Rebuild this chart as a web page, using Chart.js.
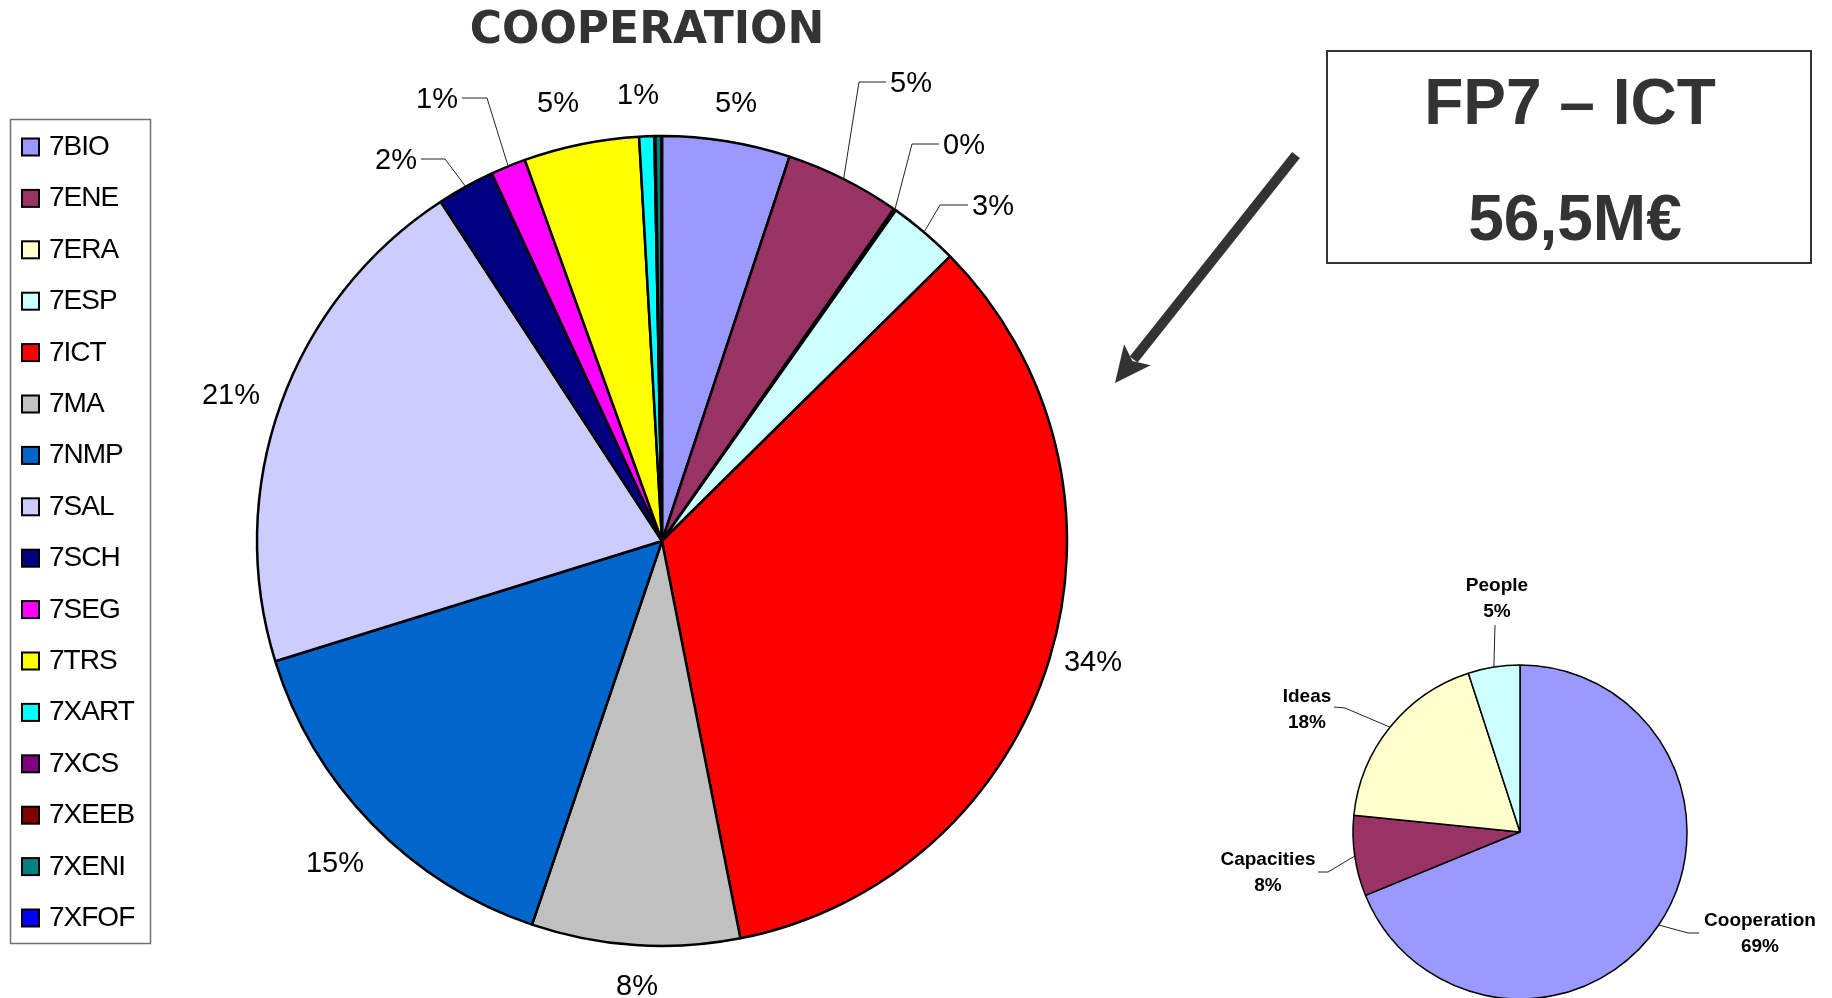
<!DOCTYPE html>
<html>
<head>
<meta charset="utf-8">
<script src="https://cdn.jsdelivr.net/npm/chart.js@4"></script>
<style>
html,body{margin:0;padding:0;background:#fff;width:1832px;height:998px;overflow:hidden;}
canvas{position:absolute;left:0;top:0;}
</style>
</head>
<body>
<canvas id="main" width="1832" height="998"></canvas>
<canvas id="small" width="1832" height="998"></canvas>
<script>
// ---- data ----
const categories = ['7BIO','7ENE','7ERA','7ESP','7ICT','7MA','7NMP','7SAL','7SCH','7SEG','7TRS','7XART','7XCS','7XEEB','7XENI','7XFOF'];
const shares = [5.1, 4.6, 0.1, 2.8, 34.3, 8.3, 15.0, 20.6, 2.3, 1.4, 4.6, 0.6, 0.02, 0.02, 0.24, 0.02];
const sliceColors = ['#9999FF','#993366','#FFFFCC','#CCFFFF','#FF0000','#C0C0C0','#0066CC','#CCCCFF','#000080','#FF00FF','#FFFF00','#00FFFF','#800080','#800000','#008080','#0000FF'];
const summaryCategories = ['Cooperation','Capacities','Ideas','People'];
const summaryShares = [68.8, 7.8, 18.4, 5.0];
const summaryColors = ['#9999FF','#993366','#FFFFCC','#CCFFFF'];
const chartTitle = 'COOPERATION';
const boxLines = ['FP7 \u2013 ICT', '56,5M\u20AC'];

// ---- label placement (relative to pie centre, px) ----
const mainLabelPlacement = {
  '7BIO':  {dx: 74, dy: -439},
  '7ENE':  {elbow: [197, -459], end: [224, -459], side: 'right'},
  '7ERA':  {elbow: [250, -397], end: [277, -397], side: 'right'},
  '7ESP':  {elbow: [278, -336], end: [306, -336], side: 'right'},
  '7ICT':  {dx: 431, dy: 120},
  '7MA':   {dx: -25, dy: 444},
  '7NMP':  {dx: -327, dy: 321},
  '7SAL':  {dx: -431, dy: -147},
  '7SCH':  {elbow: [-217, -382], end: [-241, -382], side: 'left'},
  '7SEG':  {elbow: [-175, -443], end: [-200, -443], side: 'left'},
  '7TRS':  {dx: -104, dy: -439},
  '7XART': {dx: -24, dy: -447}
};
const summaryLabelPlacement = {
  'Cooperation': {tx: 240, ty: 87, elbow: [168, 101], end: [179, 101]},
  'Capacities':  {tx: -252, ty: 26, elbow: [-192, 40], end: [-202, 40]},
  'Ideas':       {tx: -213, ty: -137, elbow: [-175, -124], end: [-186, -125]},
  'People':      {tx: -23, ty: -248, end: [-25, -207]}
};

function pctText(v, arr) {
  const total = arr.reduce((a, b) => a + b, 0);
  return Math.round(v / total * 100) + '%';
}

const mainDecor = {
  id: 'mainDecor',
  afterDraw(chart) {
    const ctx = chart.ctx;
    const meta = chart.getDatasetMeta(0);
    const ds = chart.data.datasets[0];
    const data = ds.data;

    // Title
    ctx.save();
    ctx.fillStyle = '#333333';
    ctx.font = 'bold 44px "DejaVu Sans"';
    ctx.textAlign = 'center';
    ctx.textBaseline = 'alphabetic';
    ctx.fillText(chartTitle, 647, 43);
    ctx.restore();

    // Slice labels
    ctx.save();
    const fs = 29, cap = fs * 0.716;
    ctx.font = fs + 'px "Liberation Sans"';
    ctx.fillStyle = '#000';
    ctx.textBaseline = 'alphabetic';
    meta.data.forEach((arc, i) => {
      const p = mainLabelPlacement[chart.data.labels[i]];
      if (!p) return;
      const {x, y, startAngle, endAngle, outerRadius} = arc.getProps(['x','y','startAngle','endAngle','outerRadius'], true);
      const text = pctText(data[i], data);
      if (p.elbow) {
        const mid = (startAngle + endAngle) / 2;
        const sx = x + Math.cos(mid) * outerRadius, sy = y + Math.sin(mid) * outerRadius;
        ctx.beginPath();
        ctx.moveTo(sx, sy);
        ctx.lineTo(x + p.elbow[0], y + p.elbow[1]);
        ctx.lineTo(x + p.end[0], y + p.end[1]);
        ctx.strokeStyle = '#222';
        ctx.lineWidth = 1;
        ctx.stroke();
        ctx.textAlign = p.side === 'right' ? 'left' : 'right';
        const tx = x + p.end[0] + (p.side === 'right' ? 4 : -4);
        ctx.fillText(text, tx, y + p.end[1] + cap / 2);
      } else {
        ctx.textAlign = 'center';
        ctx.fillText(text, x + p.dx, y + p.dy + cap / 2);
      }
    });
    ctx.restore();

    // Legend
    ctx.save();
    ctx.strokeStyle = '#707070';
    ctx.lineWidth = 1.5;
    ctx.strokeRect(10.5, 119.5, 140, 824);
    ctx.font = '28px "Liberation Sans"';
    try { ctx.letterSpacing = '-1px'; } catch (e) {}
    ctx.textAlign = 'left';
    ctx.textBaseline = 'alphabetic';
    chart.data.labels.forEach((lab, i) => {
      const cy = 147 + i * 51.4;
      ctx.fillStyle = ds.backgroundColor[i];
      ctx.fillRect(22, cy - 8.5, 17, 17);
      ctx.strokeStyle = '#000';
      ctx.lineWidth = 2;
      ctx.strokeRect(22, cy - 8.5, 17, 17);
      ctx.fillStyle = '#000';
      ctx.fillText(lab, 49, cy - 2 + 10);
    });
    ctx.restore();

    // Box with headline
    ctx.save();
    ctx.strokeStyle = '#333';
    ctx.lineWidth = 2;
    ctx.strokeRect(1327, 51, 484, 212);
    ctx.fillStyle = '#333';
    ctx.font = 'bold 64px "Liberation Sans"';
    ctx.textAlign = 'center';
    ctx.textBaseline = 'alphabetic';
    ctx.fillText(boxLines[0], 1570, 124);
    ctx.fillText(boxLines[1], 1575, 240);
    ctx.restore();

    // Arrow
    ctx.save();
    const ax0 = 1296, ay0 = 155, ax1 = 1115, ay1 = 383;
    const L = Math.hypot(ax1 - ax0, ay1 - ay0);
    const ux = (ax1 - ax0) / L, uy = (ay1 - ay0) / L;
    const nx = -uy, ny = ux;
    const headLen = 34, headHalf = 17;
    const bx = ax1 - ux * headLen, by = ay1 - uy * headLen;
    ctx.strokeStyle = '#333';
    ctx.lineWidth = 10;
    ctx.lineCap = 'butt';
    ctx.beginPath();
    ctx.moveTo(ax0, ay0);
    ctx.lineTo(bx + ux * 4, by + uy * 4);
    ctx.stroke();
    ctx.fillStyle = '#333';
    ctx.beginPath();
    ctx.moveTo(ax1, ay1);
    ctx.lineTo(bx + nx * headHalf - ux * 2, by + ny * headHalf - uy * 2);
    ctx.lineTo(bx + ux * 6, by + uy * 6);
    ctx.lineTo(bx - nx * headHalf - ux * 2, by - ny * headHalf - uy * 2);
    ctx.closePath();
    ctx.fill();
    ctx.restore();
  }
};

const smallDecor = {
  id: 'smallDecor',
  afterDraw(chart) {
    const ctx = chart.ctx;
    const meta = chart.getDatasetMeta(0);
    const data = chart.data.datasets[0].data;
    ctx.save();
    const fs = 19, cap = fs * 0.716;
    ctx.font = 'bold ' + fs + 'px "Liberation Sans"';
    ctx.fillStyle = '#000';
    ctx.textAlign = 'center';
    ctx.textBaseline = 'alphabetic';
    meta.data.forEach((arc, i) => {
      const lab = chart.data.labels[i];
      const p = summaryLabelPlacement[lab];
      if (!p) return;
      const {x, y, startAngle, endAngle, outerRadius} = arc.getProps(['x','y','startAngle','endAngle','outerRadius'], true);
      const mid = (startAngle + endAngle) / 2;
      const sx = x + Math.cos(mid) * outerRadius, sy = y + Math.sin(mid) * outerRadius;
      ctx.beginPath();
      ctx.moveTo(sx, sy);
      if (p.elbow) ctx.lineTo(x + p.elbow[0], y + p.elbow[1]);
      ctx.lineTo(x + p.end[0], y + p.end[1]);
      ctx.strokeStyle = '#222';
      ctx.lineWidth = 1;
      ctx.stroke();
      ctx.fillText(lab, x + p.tx, y + p.ty + cap / 2);
      ctx.fillText(pctText(data[i], data), x + p.tx, y + p.ty + 26 + cap / 2);
    });
    ctx.restore();
  }
};

Chart.defaults.font.family = '"Liberation Sans", Arial, sans-serif';

new Chart(document.getElementById('main'), {
  type: 'pie',
  data: {
    labels: categories,
    datasets: [{
      data: shares,
      backgroundColor: sliceColors,
      borderColor: '#000',
      borderWidth: 2.5,
      clip: false
    }]
  },
  options: {
    responsive: false,
    animation: false,
    radius: 405,
    layout: {padding: {left: 200, right: 708, top: 100, bottom: 16}},
    plugins: {legend: {display: false}, title: {display: false}, tooltip: {enabled: false}}
  },
  plugins: [mainDecor]
});

new Chart(document.getElementById('small'), {
  type: 'pie',
  data: {
    labels: summaryCategories,
    datasets: [{
      data: summaryShares,
      backgroundColor: summaryColors,
      borderColor: '#000',
      borderWidth: 1.5,
      clip: false
    }]
  },
  options: {
    responsive: false,
    animation: false,
    radius: 167,
    layout: {padding: {left: 1300, right: 92, top: 680, bottom: 14}},
    plugins: {legend: {display: false}, title: {display: false}, tooltip: {enabled: false}}
  },
  plugins: [smallDecor]
});
</script>
</body>
</html>
